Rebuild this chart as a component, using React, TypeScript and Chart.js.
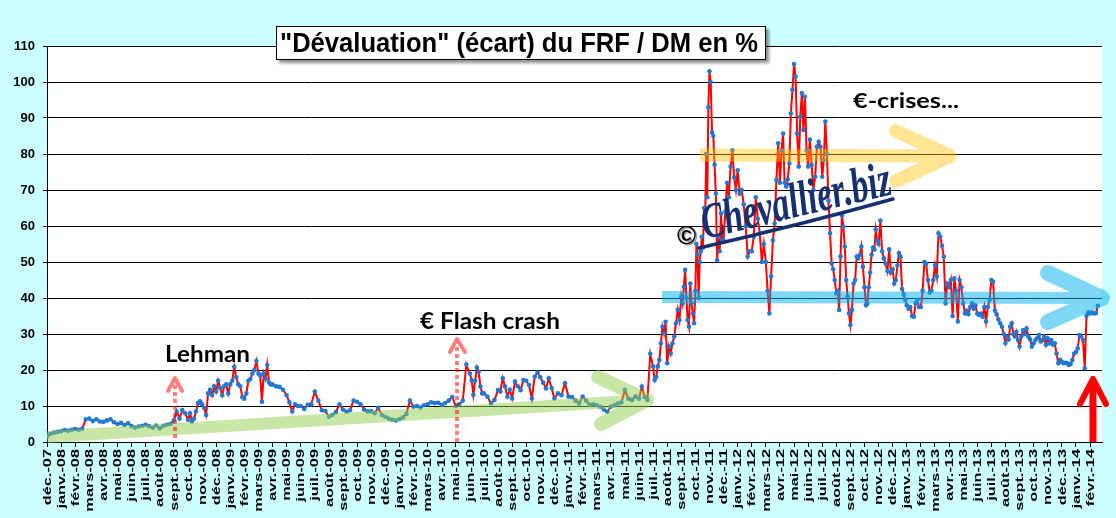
import React, { useEffect, useRef } from "react";
import { Chart, registerables } from "chart.js";

Chart.register(...registerables);

// ---------- axis labels ----------
const MONTH_NAMES = ["janv.", "févr.", "mars", "avr.", "mai", "juin", "juil.", "août", "sept.", "oct.", "nov.", "déc."];
const FIRST_YEAR = 2007;
const FIRST_MONTH = 11; // décembre 2007
const MONTH_COUNT = 75; // déc.-07 .. févr.-14
const Y_TICKS = [0, 10, 20, 30, 40, 50, 60, 70, 80, 90, 100, 110];

// ---------- series: écart FRF / DM en %, several readings per month ----------
const dec2007 = [[1.5, 2.3, 2.6, 2.8]];
const y2008 = [
  [3.0, 3.3, 3.1, 3.4],
  [3.6, 3.4, 3.7, 6.3],
  [6.5, 5.8, 6.3, 5.7],
  [5.6, 6.0, 6.3, 5.5],
  [5.0, 5.3, 4.7, 5.2],
  [4.4, 4.0, 4.3, 4.5],
  [4.8, 4.4, 4.0, 4.6],
  [3.8, 4.5, 4.8, 5.0],
  [6.0, 8.4, 6.5, 8.9, 8.0],
  [6.2, 8.0, 5.7, 6.5, 8.5, 10.8, 11.3],
  [10.5, 9.5, 7.5, 13.5, 14.5, 13.0, 15.5],
  [14.0, 17.0, 15.0, 13.0, 15.5, 16.0, 13.5],
];
const y2009 = [
  [16.0, 17.0, 20.9, 18.0, 16.0, 15.5, 12.5],
  [12.0, 13.5, 17.0, 17.5, 19.0, 20.0, 22.5],
  [19.0, 18.5, 11.2, 19.0, 17.5, 21.4, 16.5, 16.0],
  [16.0, 15.5, 15.3, 14.5],
  [13.0, 11.0, 8.5, 10.5, 10.0],
  [10.0, 9.2, 10.3, 10.5],
  [14.0, 11.5, 8.8, 8.6],
  [7.0, 7.5, 8.3, 10.5],
  [9.0, 8.4, 8.8, 11.5],
  [11.2, 10.5, 9.0, 8.5],
  [8.5, 8.0, 9.5, 7.5],
  [7.0, 6.5, 6.2, 6.0],
];
const y2010 = [
  [6.3, 6.8, 7.8, 11.5],
  [9.8, 10.0, 9.6, 10.2],
  [10.5, 11.0, 10.8, 10.9],
  [10.3, 10.8, 11.5, 12.5],
  [10.0, 10.5, 11.5, 21.5],
  [19.0, 17.2, 13.1, 17.0, 20.7, 19.5, 15.4, 13.5],
  [13.5, 12.6, 10.7, 11.7],
  [14.4, 14.0, 17.7, 15.4, 12.6, 14.5],
  [12.1, 16.8, 15.5, 14.4, 17.2],
  [17.0, 15.8, 12.1, 18.1, 19.3],
  [18.0, 16.5, 14.9, 17.7, 15.0],
  [12.1, 13.5, 13.0, 16.3],
];
const y2011 = [
  [12.6, 12.5, 11.5, 10.7],
  [12.6, 11.5, 10.3, 10.5],
  [10.2, 9.8, 9.0, 8.4],
  [9.8, 10.2, 10.7, 11.0],
  [14.4, 12.0, 11.7, 12.6],
  [12.0, 15.4, 12.5, 11.7, 24.5],
  [21.0, 17.2, 18.1, 21.0, 22.8, 27.4, 32.0, 30.2, 33.4],
  [21.9, 26.5, 24.6, 27.4, 29.3, 33.0, 36.7, 33.9],
  [40.4, 38.5, 43.1, 47.8, 40.0, 33.9, 32.0, 44.0, 38.5, 35.7, 33.0],
  [42.0, 55.0, 52.0, 40.0, 50.0, 53.0, 57.0, 54.0, 65.0, 61.0, 80.0, 68.0, 93.0],
  [103.0, 100.0, 86.0, 85.0, 77.0, 69.0, 50.5, 57.0, 53.0, 63.5, 56.0],
  [56.0, 64.0, 72.0, 68.0, 76.5, 81.0, 73.5, 70.0],
];
const y2012 = [
  [75.5, 69.0, 70.0, 66.0, 60.0, 51.5, 53.0],
  [53.0, 57.0, 68.0, 62.0, 58.0, 50.0, 55.0],
  [50.0, 42.0, 35.7, 46.0, 56.0, 60.7, 72.8, 83.0],
  [72.0, 81.0, 85.7, 72.0, 71.0, 73.0, 77.4, 91.3, 97.8],
  [105.0, 101.5, 85.7, 76.5, 90.4, 96.9, 86.7, 95.9, 81.0],
  [76.5, 84.0, 77.0, 70.0, 73.7, 82.0, 83.4, 82.0],
  [73.7, 78.3, 89.0, 80.0, 67.0, 58.0, 49.6, 48.0, 45.0],
  [41.3, 42.0, 36.7, 51.5, 63.0, 59.8, 54.3, 45.0, 40.4, 35.7],
  [32.5, 36.7, 44.0, 45.0, 51.5, 51.0, 52.0, 54.3, 48.7],
  [43.0, 38.0, 38.5, 43.0, 47.0, 52.0, 54.0, 53.5, 59.0, 56.0],
  [55.0, 61.5, 53.0, 51.0, 49.5, 47.5, 53.5, 47.0],
  [48.0, 44.0, 45.0, 49.0, 52.5, 51.5, 42.5, 41.0, 39.5],
];
const y2013 = [
  [38.0, 37.0, 37.5, 35.0, 34.8, 38.5, 39.5, 37.5],
  [37.5, 42.0, 50.0, 49.5, 45.0, 41.5, 42.0, 45.0],
  [49.0, 46.0, 58.0, 57.0, 54.5, 51.5, 38.5, 44.0],
  [43.0, 45.0, 35.0, 45.5, 42.0, 33.5, 45.0, 43.0],
  [38.5, 35.7, 36.5, 35.5, 37.5, 38.5, 37.0, 38.0],
  [35.7, 35.3, 35.7, 34.8, 37.5, 33.5, 37.5, 39.5],
  [45.0, 44.5, 36.5, 35.5, 34.0, 33.0, 32.0, 30.0],
  [27.5, 29.3, 28.5, 32.0, 33.0, 30.0, 29.3, 30.6, 28.3],
  [26.5, 29.3, 31.0, 30.0, 31.5, 29.3, 28.5, 26.5],
  [27.4, 28.3, 28.8, 29.7, 27.9, 28.3, 29.3, 27.0],
  [28.8, 27.4, 28.3, 27.0, 27.4, 24.6, 21.9, 22.8],
  [22.3, 21.9, 22.0, 21.9, 21.4, 21.7, 22.8, 24.6],
];
const y2014 = [
  [25.0, 26.0, 29.7, 29.3, 28.3, 20.5, 35.0, 36.0],
  [35.7, 36.0, 35.7, 35.8, 37.8],
];
const LAST_MONTH_SPAN = 0.7; // février 2014 only partly covered

const monthlyValues: number[][] = [...dec2007, ...y2008, ...y2009, ...y2010, ...y2011, ...y2012, ...y2013, ...y2014];

const tickLabels: string[] = [];
for (let i = 0; i < MONTH_COUNT; i++) {
  const mIdx = (FIRST_MONTH + i) % 12;
  const yr = FIRST_YEAR + Math.floor((FIRST_MONTH + i) / 12);
  tickLabels.push(`${MONTH_NAMES[mIdx]}-${String(yr % 100).padStart(2, "0")}`);
}

const points: { x: number; y: number }[] = [];
monthlyValues.forEach((vals, m) => {
  const span = m === monthlyValues.length - 1 ? LAST_MONTH_SPAN : 1;
  vals.forEach((v, i) => points.push({ x: m + (i / vals.length) * span, y: v }));
});

// ---------- drawing helpers ----------
function fitText(
  ctx: CanvasRenderingContext2D,
  text: string,
  x: number,
  y: number,
  font: string,
  width: number,
  align: CanvasTextAlign,
  color: string,
  sy = 1
) {
  ctx.save();
  ctx.font = font;
  const w = ctx.measureText(text).width;
  ctx.translate(x, y);
  ctx.scale(width / w, sy);
  ctx.textAlign = align;
  ctx.textBaseline = "alphabetic";
  ctx.fillStyle = color;
  ctx.fillText(text, 0, 0);
  ctx.restore();
}

type Arrow = {
  from: [number, number];
  tip: [number, number];
  arm1: [number, number];
  arm2: [number, number];
  shaftW: number;
  armW: number;
  color: string;
  alpha: number;
  dash?: number[];
};

function drawArrow(chart: any, a: Arrow) {
  const dpr = chart.currentDevicePixelRatio || 1;
  const cv = document.createElement("canvas");
  cv.width = chart.canvas.width;
  cv.height = chart.canvas.height;
  const c = cv.getContext("2d")!;
  c.scale(dpr, dpr);
  c.strokeStyle = a.color;
  const dx = a.tip[0] - a.from[0];
  const dy = a.tip[1] - a.from[1];
  const len = Math.hypot(dx, dy);
  const k = (len - a.armW / 2) / len;
  c.lineWidth = a.shaftW;
  c.lineCap = "butt";
  if (a.dash) c.setLineDash(a.dash);
  c.beginPath();
  c.moveTo(a.from[0], a.from[1]);
  c.lineTo(a.from[0] + dx * k, a.from[1] + dy * k);
  c.stroke();
  c.setLineDash([]);
  c.lineWidth = a.armW;
  c.lineCap = "round";
  c.lineJoin = "round";
  c.beginPath();
  c.moveTo(a.arm1[0], a.arm1[1]);
  c.lineTo(a.tip[0], a.tip[1]);
  c.lineTo(a.arm2[0], a.arm2[1]);
  c.stroke();
  const ctx = chart.ctx as CanvasRenderingContext2D;
  ctx.save();
  ctx.setTransform(1, 0, 0, 1, 0, 0);
  ctx.globalAlpha = a.alpha;
  ctx.drawImage(cv, 0, 0);
  ctx.restore();
}

const ARROWS: Arrow[] = [
  { from: [47, 437], tip: [647, 400], arm1: [598, 377], arm2: [601, 424], shaftW: 12, armW: 14, color: "rgb(146,208,80)", alpha: 0.5 },
  { from: [700, 155], tip: [950, 156], arm1: [896, 131], arm2: [896, 181], shaftW: 13, armW: 14, color: "rgb(255,192,0)", alpha: 0.42 },
  { from: [662, 297], tip: [1102, 298], arm1: [1048, 273], arm2: [1048, 322], shaftW: 12, armW: 16, color: "rgb(0,176,240)", alpha: 0.5 },
  { from: [175, 438], tip: [175, 378], arm1: [168, 391], arm2: [182, 391], shaftW: 4, armW: 4, color: "rgb(255,0,0)", alpha: 0.5, dash: [4, 3] },
  { from: [457, 442], tip: [457, 339], arm1: [450, 352], arm2: [465, 352], shaftW: 4, armW: 4, color: "rgb(255,0,0)", alpha: 0.5, dash: [4, 3] },
  { from: [1093, 442], tip: [1093, 379], arm1: [1080, 404], arm2: [1106, 404], shaftW: 7, armW: 6, color: "rgb(255,0,0)", alpha: 1 },
];

const overlayPlugin = {
  id: "overlay",
  beforeDraw(chart: any) {
    const { ctx, chartArea } = chart;
    ctx.save();
    ctx.fillStyle = "#ffffff";
    ctx.fillRect(chartArea.left, chartArea.top, chartArea.right - chartArea.left, chartArea.bottom - chartArea.top);
    ctx.restore();
  },
  afterDatasetsDraw(chart: any) {
    ARROWS.forEach((a) => drawArrow(chart, a));
  },
  afterDraw(chart: any) {
    const ctx = chart.ctx as CanvasRenderingContext2D;
    const xs = chart.scales.x;
    ctx.save();
    ctx.font = "bold 11.5px 'Liberation Sans', Arial, sans-serif";
    ctx.fillStyle = "#000";
    ctx.textAlign = "right";
    ctx.textBaseline = "middle";
    tickLabels.forEach((lab, i) => {
      const px = xs.getPixelForValue(i);
      ctx.save();
      ctx.translate(px + 0.5, 449);
      ctx.rotate(-Math.PI / 2);
      ctx.scale(1.42, 1);
      ctx.fillText(lab, 0, 0);
      ctx.restore();
    });
    ctx.restore();

    ctx.save();
    ctx.shadowColor = "rgba(0,0,0,0.45)";
    ctx.shadowOffsetX = 3;
    ctx.shadowOffsetY = 3;
    ctx.shadowBlur = 3;
    ctx.fillStyle = "#fff";
    ctx.fillRect(276, 26, 490, 34);
    ctx.restore();
    ctx.save();
    ctx.strokeStyle = "#000";
    ctx.lineWidth = 1;
    ctx.strokeRect(276.5, 26.5, 489, 33);
    ctx.restore();
    fitText(ctx, "\"Dévaluation\" (écart) du FRF / DM en %", 519, 52, "bold 28px 'Liberation Sans', Arial, sans-serif", 478, "center", "#000");

    fitText(ctx, "Lehman", 165, 362, "bold 23px Lato, 'Open Sans', sans-serif", 85, "left", "#000");
    fitText(ctx, "€ Flash crash", 420, 329, "bold 23px Lato, 'Open Sans', sans-serif", 140, "left", "#000");
    fitText(ctx, "€-crises...", 853, 108, "bold 21px Lato, 'Open Sans', sans-serif", 106, "left", "#000");

    ctx.save();
    ctx.fillStyle = "#9a9a9a";
    ctx.font = "bold 26px 'Liberation Sans', Arial, sans-serif";
    ctx.textAlign = "center";
    ctx.textBaseline = "middle";
    ctx.fillText("©", 688, 238);
    ctx.fillStyle = "#000";
    ctx.fillText("©", 686.5, 236.5);
    ctx.restore();

    ctx.save();
    ctx.translate(705, 239);
    ctx.rotate(-0.235);
    fitText(ctx, "Chevallier.biz", 0, 0, "italic bold 50px 'Liberation Serif', 'DejaVu Serif', serif", 194, "left", "#14306e");
    ctx.restore();
    ctx.save();
    ctx.strokeStyle = "#14306e";
    ctx.lineWidth = 3.5;
    ctx.lineCap = "round";
    ctx.beginPath();
    ctx.moveTo(699, 248);
    ctx.quadraticCurveTo(800, 225, 893, 199);
    ctx.stroke();
    ctx.restore();
  },
};

export default function App() {
  const ref = useRef<HTMLCanvasElement>(null);
  useEffect(() => {
    const chart = new Chart(ref.current!, {
      type: "line",
      data: {
        datasets: [
          {
            data: points,
            borderColor: "#ff0000",
            borderWidth: 2,
            pointRadius: 2.3,
            pointBorderWidth: 0,
            pointBackgroundColor: "#1f78d1",
            pointHoverRadius: 2.3,
            tension: 0,
            fill: false,
          },
        ],
      },
      options: {
        animation: false,
        responsive: false,
        events: [],
        layout: { padding: { top: 46, right: 14, bottom: 0, left: 0 } },
        plugins: { legend: { display: false }, tooltip: { enabled: false }, title: { display: false } },
        scales: {
          x: {
            type: "linear",
            min: 0,
            max: 74.85,
            afterBuildTicks: (scale: any) => {
              scale.ticks = tickLabels.map((_, i) => ({ value: i }));
            },
            afterFit: (scale: any) => {
              scale.height = 76;
            },
            ticks: { display: false },
            grid: { display: true, drawOnChartArea: false, drawTicks: true, tickLength: 5, color: "#000", lineWidth: 1 },
            border: { display: true, color: "#000", width: 1 },
          },
          y: {
            min: 0,
            max: 110,
            afterBuildTicks: (scale: any) => {
              scale.ticks = Y_TICKS.map((v) => ({ value: v }));
            },
            afterFit: (scale: any) => {
              scale.width = 47;
            },
            ticks: {
              color: "#000",
              padding: 8,
              font: { family: "'Liberation Sans', Arial, sans-serif", weight: "bold", size: 13 },
            },
            grid: { color: "#000", lineWidth: 1, tickLength: 4, drawTicks: true },
            border: { display: true, color: "#000", width: 1 },
          },
        },
      },
      plugins: [overlayPlugin],
    } as any);
    return () => chart.destroy();
  }, []);
  return (
    <div style={{ position: "fixed", left: 0, top: 0, width: 1116, height: 518, background: "#ccffff" }}>
      <canvas ref={ref} width={1116} height={518} style={{ display: "block", width: 1116, height: 518 }} />
    </div>
  );
}
